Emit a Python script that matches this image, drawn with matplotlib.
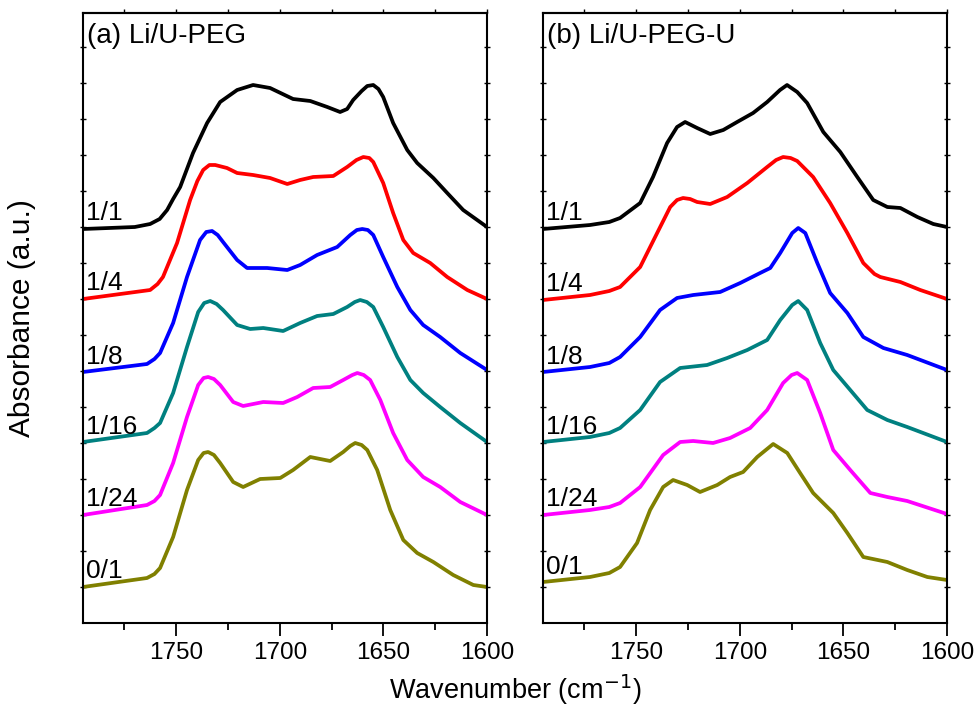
import numpy as np
import matplotlib
matplotlib.use("Agg")
import matplotlib.pyplot as plt
from matplotlib.ticker import FixedLocator, NullFormatter
import matplotlib.transforms as mtransforms

plt.rcParams['font.family'] = ['Liberation Sans', 'DejaVu Sans']

ratios = ["1/1", "1/4", "1/8", "1/16", "1/24", "0/1"]
colors = ["#000000", "#FF0000", "#0000FF", "#008080", "#FF00FF", "#808000"]
panel_titles = ["(a) Li/U-PEG", "(b) Li/U-PEG-U"]

# ---------- Panel (a) Li/U-PEG : stacked absorbance (a.u.) ----------
a_x_11 = [1795, 1770, 1762.6, 1758.0, 1754.4, 1751.5, 1748.1, 1741.9, 1735.1, 1728.8, 1720.6, 1712.9, 1704.7,
          1693.6, 1685.3, 1677.1, 1670.9, 1667.5, 1664.6, 1660.5, 1657.8, 1654.9, 1652.4, 1650.1, 1645.3, 1638.5,
          1633.7, 1625.9, 1619.2, 1611.5, 1600]
a_y_11 = [3.94, 3.96, 3.99, 4.04, 4.13, 4.24, 4.36, 4.70, 5.00, 5.21, 5.33, 5.38, 5.35,
          5.24, 5.22, 5.16, 5.11, 5.14, 5.23, 5.32, 5.37, 5.38, 5.34, 5.26, 5.00, 4.73,
          4.60, 4.45, 4.30, 4.13, 3.96]

a_x_14 = [1795, 1762.6, 1759.0, 1756.4, 1749.6, 1743.3, 1739.8, 1737.0, 1734.0, 1731.2, 1725.5, 1720.6, 1712.9,
          1704.7, 1696.4, 1690.2, 1683.9, 1674.2, 1667.5, 1663.0, 1659.7, 1656.8, 1654.9, 1650.1, 1645.3,
          1640.4, 1635.6, 1627.4, 1619.2, 1609.5, 1600]
a_y_14 = [3.24, 3.33, 3.39, 3.46, 3.80, 4.23, 4.42, 4.53, 4.58, 4.58, 4.55, 4.50, 4.48,
          4.45, 4.39, 4.43, 4.46, 4.47, 4.56, 4.63, 4.66, 4.65, 4.61, 4.40, 4.10,
          3.83, 3.70, 3.60, 3.46, 3.33, 3.24]

a_x_18 = [1795, 1764.1, 1760.5, 1757.8, 1751.5, 1744.8, 1738.5, 1735.5, 1732.7, 1730.0, 1727.4, 1720.6, 1715.8,
          1706.1, 1696.4, 1690.2, 1682.0, 1672.3, 1666.0, 1662.8, 1660.2, 1657.5, 1654.9, 1650.1, 1643.3,
          1637.0, 1630.8, 1622.6, 1612.9, 1600]
a_y_18 = [2.51, 2.59, 2.64, 2.70, 3.00, 3.46, 3.83, 3.91, 3.92, 3.88, 3.81, 3.63, 3.55,
          3.55, 3.53, 3.58, 3.68, 3.76, 3.88, 3.93, 3.94, 3.93, 3.88, 3.66, 3.36,
          3.13, 2.98, 2.86, 2.70, 2.53]

a_x_116 = [1795, 1764.1, 1760.5, 1757.8, 1751.5, 1744.8, 1739.4, 1736.5, 1733.6, 1730.5, 1727.4, 1720.6, 1714.3,
           1708.0, 1698.4, 1690.2, 1682.0, 1674.2, 1667.5, 1663.8, 1661.2, 1658.0, 1654.9, 1650.1, 1643.3,
           1637.0, 1630.8, 1622.6, 1612.9, 1600]
a_y_116 = [1.81, 1.90, 1.95, 2.00, 2.30, 2.76, 3.11, 3.20, 3.22, 3.19, 3.13, 2.98, 2.94,
           2.95, 2.92, 3.00, 3.07, 3.09, 3.16, 3.21, 3.23, 3.21, 3.16, 2.96, 2.66,
           2.43, 2.30, 2.16, 2.00, 1.81]

a_x_124 = [1795, 1764.1, 1760.5, 1757.8, 1751.5, 1744.8, 1739.4, 1736.8, 1734.6, 1731.8, 1728.8, 1722.5, 1717.7,
           1708.0, 1698.4, 1691.6, 1683.9, 1675.7, 1669.4, 1665.0, 1662.6, 1659.5, 1656.4, 1651.5, 1645.3,
           1638.5, 1630.8, 1622.6, 1612.9, 1600]
a_y_124 = [1.08, 1.18, 1.22, 1.28, 1.60, 2.06, 2.38, 2.45, 2.46, 2.44, 2.38, 2.21, 2.17,
           2.21, 2.20, 2.26, 2.35, 2.36, 2.43, 2.48, 2.50, 2.48, 2.43, 2.23, 1.90,
           1.63, 1.46, 1.36, 1.21, 1.08]

a_x_01 = [1795, 1764.1, 1760.5, 1757.8, 1751.5, 1744.8, 1739.4, 1736.8, 1734.6, 1731.8, 1728.8, 1722.5, 1717.7,
          1709.5, 1699.8, 1693.6, 1685.3, 1675.7, 1669.4, 1666.0, 1663.6, 1660.5, 1657.8, 1653.0, 1646.7,
          1640.4, 1633.7, 1625.9, 1616.3, 1606.6, 1600]
a_y_01 = [0.36, 0.45, 0.49, 0.55, 0.86, 1.33, 1.63, 1.70, 1.71, 1.68, 1.60, 1.41, 1.36,
          1.44, 1.45, 1.53, 1.66, 1.62, 1.71, 1.77, 1.80, 1.78, 1.73, 1.53, 1.13,
          0.83, 0.70, 0.61, 0.48, 0.38, 0.36]

# ---------- Panel (b) Li/U-PEG-U ----------
b_x_11 = [1795, 1772.3, 1763.0, 1757.8, 1748.1, 1741.9, 1735.1, 1730.3, 1726.4, 1720.6, 1714.3, 1708.0, 1701.3,
          1693.6, 1686.8, 1680.6, 1677.2, 1672.3, 1667.5, 1659.7, 1651.5, 1643.3, 1635.6, 1628.8, 1622.5,
          1614.3, 1606.6, 1600]
b_y_11 = [3.94, 3.98, 4.01, 4.05, 4.20, 4.46, 4.80, 4.96, 5.01, 4.95, 4.89, 4.93, 5.01,
          5.10, 5.21, 5.33, 5.38, 5.31, 5.20, 4.91, 4.71, 4.46, 4.23, 4.16, 4.15,
          4.06, 3.99, 3.96]

b_x_14 = [1795, 1772.3, 1763.0, 1757.8, 1748.1, 1739.9, 1733.6, 1730.3, 1727.4, 1724.0, 1720.6, 1714.3, 1706.1,
          1696.4, 1686.8, 1682.5, 1679.1, 1675.5, 1672.3, 1664.6, 1656.4, 1648.1, 1640.4, 1635.0, 1632.2,
          1622.5, 1612.9, 1600]
b_y_14 = [3.23, 3.28, 3.32, 3.36, 3.56, 3.90, 4.16, 4.23, 4.25, 4.24, 4.21, 4.19, 4.26,
          4.40, 4.56, 4.63, 4.66, 4.65, 4.62, 4.46, 4.20, 3.90, 3.60, 3.49, 3.46,
          3.41, 3.33, 3.24]

b_x_18 = [1795, 1772.3, 1763.0, 1757.8, 1748.1, 1738.5, 1730.3, 1722.5, 1709.5, 1699.8, 1690.2, 1685.3, 1680.5,
          1674.7, 1671.8, 1668.4, 1662.6, 1656.4, 1648.1, 1640.4, 1630.7, 1619.2, 1600]
b_y_18 = [2.51, 2.56, 2.60, 2.66, 2.86, 3.13, 3.25, 3.28, 3.31, 3.40, 3.50, 3.55, 3.70,
          3.90, 3.95, 3.90, 3.60, 3.30, 3.10, 2.86, 2.75, 2.68, 2.53]

b_x_116 = [1795, 1772.3, 1763.0, 1757.8, 1748.1, 1738.5, 1728.8, 1715.8, 1706.1, 1696.4, 1686.8, 1680.5, 1674.7,
           1671.8, 1667.5, 1661.2, 1654.9, 1646.7, 1638.5, 1628.8, 1619.2, 1600]
b_y_116 = [1.81, 1.86, 1.90, 1.95, 2.13, 2.41, 2.55, 2.58, 2.65, 2.73, 2.83, 3.03, 3.18,
           3.22, 3.13, 2.80, 2.53, 2.33, 2.13, 2.03, 1.96, 1.81]

b_x_124 = [1795, 1772.3, 1763.0, 1757.8, 1748.1, 1737.0, 1728.8, 1722.5, 1712.9, 1704.7, 1695.0, 1686.8, 1679.1,
           1675.0, 1672.3, 1667.5, 1661.2, 1654.9, 1646.7, 1637.0, 1628.8, 1619.2, 1600]
b_y_124 = [1.08, 1.13, 1.16, 1.20, 1.36, 1.68, 1.81, 1.82, 1.80, 1.85, 1.95, 2.13, 2.40,
           2.48, 2.50, 2.43, 2.10, 1.73, 1.53, 1.30, 1.26, 1.22, 1.09]

b_x_01 = [1795, 1772.3, 1763.0, 1757.8, 1749.6, 1743.3, 1737.0, 1732.2, 1725.4, 1719.2, 1710.9, 1704.7, 1698.4,
          1691.6, 1683.9, 1677.1, 1670.9, 1664.6, 1654.9, 1648.1, 1640.4, 1628.8, 1619.2, 1609.5, 1600]
b_y_01 = [0.41, 0.46, 0.50, 0.56, 0.80, 1.13, 1.36, 1.43, 1.38, 1.31, 1.38, 1.46, 1.51,
          1.66, 1.79, 1.70, 1.50, 1.30, 1.10, 0.90, 0.66, 0.61, 0.53, 0.46, 0.43]

panel_a = [(a_x_11, a_y_11), (a_x_14, a_y_14), (a_x_18, a_y_18),
           (a_x_116, a_y_116), (a_x_124, a_y_124), (a_x_01, a_y_01)]
panel_b = [(b_x_11, b_y_11), (b_x_14, b_y_14), (b_x_18, b_y_18),
           (b_x_116, b_y_116), (b_x_124, b_y_124), (b_x_01, b_y_01)]

xticks_major = [1750, 1700, 1650, 1600]
xticks_minor = [1775, 1725, 1675, 1625]

fig = plt.figure(figsize=(9.75, 7.2), dpi=100)
W, H = 975, 720
ax_a = fig.add_axes([83 / W, (H - 623) / H, 404 / W, 610 / H])
ax_b = fig.add_axes([543 / W, (H - 623) / H, 404 / W, 610 / H])

for ax, data, title in [(ax_a, panel_a, panel_titles[0]), (ax_b, panel_b, panel_titles[1])]:
    trans = mtransforms.blended_transform_factory(ax.transAxes, ax.transData)
    for (xs, ys), c, lab in zip(data, colors, ratios):
        ax.plot(xs, ys, color=c, lw=2.7, solid_joinstyle='round', solid_capstyle='round')
        ax.text(0.008, ys[0] + 0.085, lab, transform=trans, fontsize=19,
                ha='left', va='baseline', color='black')
    ax.set_xlim(1795, 1600)
    ax.set_ylim(0, 6.10)
    ax.text(0.010, 0.951, title, transform=ax.transAxes, fontsize=20,
            ha='left', va='baseline')
    for s in ax.spines.values():
        s.set_linewidth(1.5)
    ax.xaxis.set_major_locator(FixedLocator(xticks_major))
    ax.xaxis.set_minor_locator(FixedLocator(xticks_minor))
    ax.yaxis.set_major_locator(FixedLocator(np.arange(0.36, 6.1, 0.36)))
    ax.yaxis.set_major_formatter(NullFormatter())
    ax.tick_params(axis='x', which='major', direction='out', length=9, width=1.3,
                   labelsize=17.5, pad=5, top=False)
    ax.tick_params(axis='x', which='minor', direction='out', length=5, width=1.3, top=False)
    ax.tick_params(axis='y', which='major', direction='inout', length=4, width=1.0,
                   left=True, right=True)
    sec = ax.secondary_xaxis('top')
    sec.xaxis.set_major_locator(FixedLocator(xticks_major + xticks_minor))
    sec.tick_params(axis='x', direction='out', length=3, width=1.0, labeltop=False)
    sec.spines['top'].set_linewidth(1.5)

fig.text(22 / W, 1 - 318 / H, "Absorbance (a.u.)", rotation=90, fontsize=21.5,
         ha='center', va='center')
fig.text(515 / W, 1 - 690 / H, "Wavenumber (cm$^{-1}$)", fontsize=19.5,
         ha='center', va='center')

fig.savefig("out.png", dpi=100)
